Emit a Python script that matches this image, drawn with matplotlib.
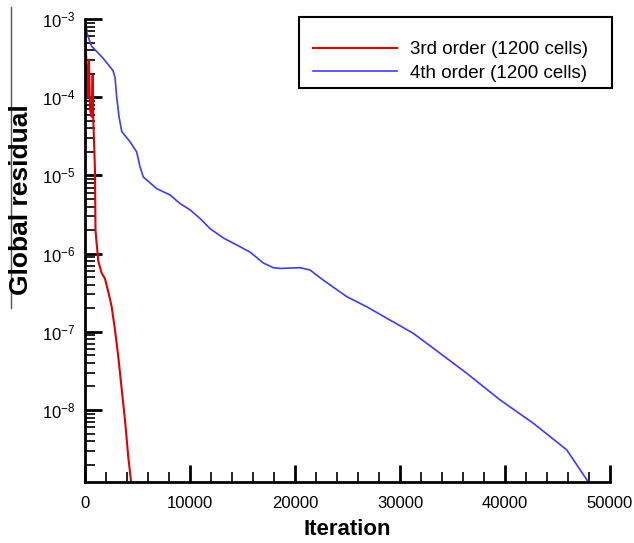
import numpy as np
import matplotlib
matplotlib.use("Agg")
import matplotlib.pyplot as plt
from matplotlib.ticker import LogLocator, NullFormatter, MultipleLocator
from matplotlib.lines import Line2D
from matplotlib.patches import Rectangle

plt.rcParams['font.family'] = ['Liberation Sans', 'DejaVu Sans']
plt.rcParams['mathtext.fontset'] = 'custom'
plt.rcParams['mathtext.rm'] = 'Liberation Sans'
plt.rcParams['mathtext.it'] = 'Liberation Sans'

# 3rd order (1200 cells)
iter_3rd = [0, 50, 190, 290, 380, 480, 640, 730, 790, 950, 1000, 1110, 1270, 1590,
            1900, 2220, 2540, 2860, 3170, 3500, 3810, 4120, 4350, 4420]
res_3rd_log = [-3.40, -3.33, -3.65, -4.00, -3.52, -4.16, -4.25, -3.72, -4.29, -4.93,
               -5.70, -5.87, -6.10, -6.25, -6.32, -6.49, -6.68, -6.98, -7.32, -7.74,
               -8.13, -8.60, -8.87, -8.95]

# 4th order (1200 cells)
iter_4th = [0, 95, 190, 410, 640, 790, 1710, 2670, 2860, 3020, 3240, 3500, 4290, 4920,
            5240, 5550, 6830, 8100, 9050, 10000, 10950, 11900, 13170, 14450, 15710,
            16980, 17930, 18570, 20480, 21430, 22700, 24920, 26830, 29050, 31270,
            33170, 36350, 39520, 42700, 45880, 47930, 48100]
res_4th_log = [-3.00, -3.04, -3.18, -3.27, -3.35, -3.37, -3.50, -3.66, -3.75, -4.00,
               -4.25, -4.44, -4.57, -4.70, -4.89, -5.02, -5.17, -5.25, -5.36, -5.44,
               -5.55, -5.68, -5.80, -5.89, -5.98, -6.12, -6.18, -6.19, -6.18, -6.21,
               -6.34, -6.55, -6.68, -6.85, -7.02, -7.21, -7.53, -7.87, -8.17, -8.51,
               -8.92, -8.95]

x_ticks = [0, 10000, 20000, 30000, 40000, 50000]
y_ticks = [1e-8, 1e-7, 1e-6, 1e-5, 1e-4, 1e-3]
y_labels = [r'$10^{-8}$', r'$10^{-7}$', r'$10^{-6}$', r'$10^{-5}$', r'$10^{-4}$', r'$10^{-3}$']

W, H = 634, 543
fig = plt.figure(figsize=(W / 100, H / 100), dpi=100)
ax = fig.add_axes([85 / W, 1 - 482 / H, (610 - 85) / W, (482 - 19) / H])

ax.plot(iter_3rd, 10 ** np.array(res_3rd_log), color='#e00000', lw=1.5,
        label='3rd order (1200 cells)')
ax.plot(iter_4th, 10 ** np.array(res_4th_log), color='#3c3cff', lw=1.2,
        label='4th order (1200 cells)')

ax.set_yscale('log')
ax.set_xlim(0, 50000)
ax.set_ylim(1.2e-9, 1e-3)

ax.set_xticks(x_ticks)
ax.set_xticklabels([str(v) for v in x_ticks])
ax.xaxis.set_minor_locator(MultipleLocator(2000))
ax.set_yticks(y_ticks)
ax.set_yticklabels(y_labels)
ax.yaxis.set_minor_locator(LogLocator(base=10, subs=np.arange(2, 10)))
ax.yaxis.set_minor_formatter(NullFormatter())

for s in ['top', 'right']:
    ax.spines[s].set_visible(False)
for s in ['left', 'bottom']:
    ax.spines[s].set_linewidth(2)

ax.tick_params(which='major', direction='in', length=12, width=2, labelsize=12)
ax.tick_params(which='minor', direction='in', length=7, width=1.2)
ax.tick_params(axis='x', which='major', pad=10)
ax.tick_params(axis='y', which='major', pad=7)

ax.set_xlabel('Iteration', fontsize=16, fontweight='bold', labelpad=6)
fig.text(21 / W, 1 - 200 / H, 'Global residual', rotation=90, fontsize=19,
         fontweight='bold', ha='center', va='center')

leg = ax.legend(loc='upper left', frameon=False, fontsize=13.5, handlelength=4.5,
                handletextpad=0.7, borderpad=0, borderaxespad=0,
                labelspacing=0.35,
                bbox_to_anchor=(313 / W, 1 - 41 / H), bbox_transform=fig.transFigure)

fig.add_artist(Rectangle((299 / W, 1 - 88 / H), (612 - 299) / W, (88 - 17) / H,
                         transform=fig.transFigure, fill=False, edgecolor='black',
                         lw=1.5))

fig.add_artist(Line2D([11 / W, 11 / W], [1 - 7 / H, 1 - 308 / H],
                      transform=fig.transFigure, color='#555555', lw=1))

fig.savefig('out.png', dpi=100)
